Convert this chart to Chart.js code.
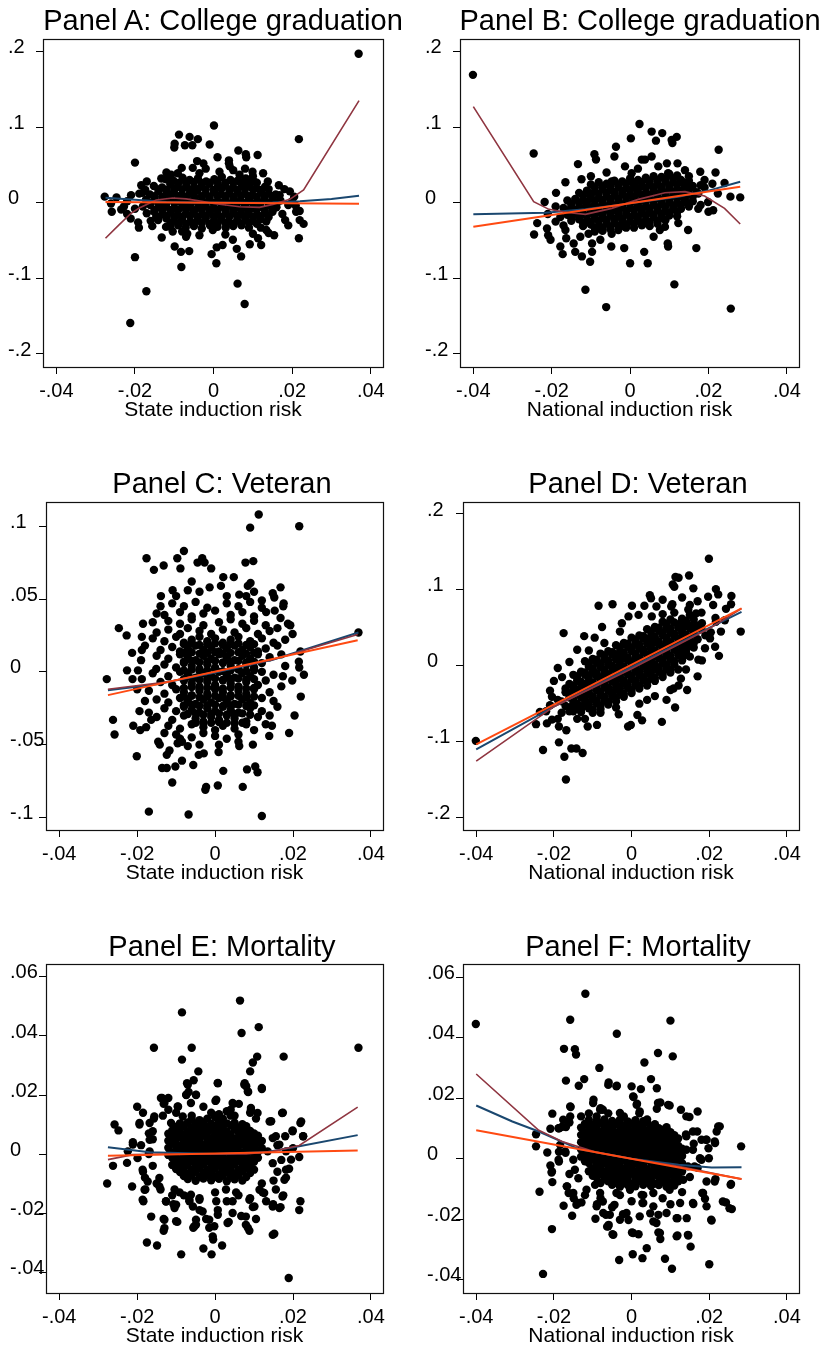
<!DOCTYPE html>
<html lang="en">
<head>
<meta charset="UTF-8" />
<title>Induction risk scatter panels</title>
<script src="https://cdn.jsdelivr.net/npm/chart.js"></script>
<style>
  html, body { margin: 0; background: #fff; }
  #page { position: relative; width: 824px; height: 1349px; overflow: hidden; font-family: "Liberation Sans", Arial, sans-serif; }
  .ptitle { position: absolute; font-size: 29px; line-height: 29px; white-space: nowrap; transform: translateX(-50%); color: #000; }
  canvas { position: absolute; }
</style>
</head>
<body>
<div id="page"></div>
<script>
// tick values and labels (Stata style, no leading zero)
const xTicks = [-.04, -.02, 0, .02, .04];
const xTickLabels = ['-.04', '-.02', '0', '.02', '.04'];
const yTicksWide = [-.2, -.1, 0, .1, .2];
const yLabelsWide = ['-.2', '-.1', '0', '.1', '.2'];
const yTicksVet = [-.1, -.05, 0, .05, .1];
const yLabelsVet = ['-.1', '-.05', '0', '.05', '.1'];
const yTicksMort = [-.04, -.02, 0, .02, .04, .06];
const yLabelsMort = ['-.04', '-.02', '0', '.02', '.04', '.06'];

// ---- Panel A: college graduation vs state induction risk ----
const ptsA = [
  [.0369,.197],[.0217,.084],[.0001,.102],[-.0088,.090],[-.0061,.087],[-.004,.084],[-.0099,.078],[-.01,.073],[-.0073,.076],[-.0054,.076],
  [-.001,.077],[.0063,.069],[.0082,.064],[.0083,.060],[.0112,.063],[.001,.060],[-.02,.053],[-.0277,.008],[-.0247,.007],[-.0259,-.012],
  [-.0261,-.001],[-.0228,-.005],[-.0211,-.021],[-.0192,-.026],[-.0156,-.031],[-.0132,-.046],[-.02,-.072],[-.0171,-.117],[-.0212,-.159],[-.0099,-.058],
  [-.0083,-.065],[-.0062,-.064],[-.0082,-.085],[-.0005,-.068],[.0008,-.059],[.0007,-.080],[.0023,-.056],[.0061,-.107],[.0079,-.134],[.0059,-.061],
  [.007,-.071],[.0092,-.055],[.0121,-.056],[.0154,-.043],[.0134,-.036],[.0217,-.047],[.0229,-.028],[.0219,-.023],[.0219,-.011],[.0182,-.023],
  [.0168,.010],[.0194,.015],[.0126,.039],[.0099,.041],[.0039,.052],[.0039,.056],[-.0026,.052],[-.0042,.055],[-.0053,.046],[-.0081,.046],
  [-.0091,.039],[-.0108,.037],[-.0133,.032],[-.0184,.023],[-.0174,.017],[-.0189,.012],[.0138,.028],[.0166,.023],[.0151,.004],[.0209,-.004],
  [-.0146,-.019],[-.0121,-.032],[-.0104,-.038],[-.0067,-.041],[-.0036,-.043],[-.0002,-.036],[.0049,-.049],[.01,-.041],[.0113,-.047],[.0134,-.025],
  [-.0036,.039],[.0015,.041],[.0066,.037],[.0041,.048],[-.022,.002],[-.0235,-.009],[.019,-.003],[.0205,.008],[.0175,-.015],[-.016,-.024],
  [.008,.045],[-.002,.045],[.012,-.033],[-.008,-.038],
  [-.021,.010],[-.020,-.008],[-.022,-.015],[.020,.002],[.021,-.012],[.018,.018],[-.017,.028],[-.012,.040],[.010,.035],[.014,-.040],
  [.003,-.042],[-.007,-.045],[.019,-.030],[-.019,-.033],[.005,.043],
  [-.0121,.031],[-.0102,.029],[-.0079,.033],[-.0061,.030],[-.0040,.032],[-.0019,.028],[.0002,.031],[.0021,.034],[.0043,.030],[.0061,.029],[.0082,.032],[.0103,.028],
  [-.011,.027],[-.009,.026],[-.007,.0265],[-.005,.027],[-.003,.026],[-.001,.0265],[.001,.027],[.003,.026],[.005,.0265],[.007,.027],[.009,.026],[.011,.0265],
  [-.0152,.022],[-.0131,.020],[-.0110,.024],[-.0091,.021],[-.0069,.023],[-.0050,.019],[-.0031,.022],[-.0010,.025],[.0011,.021],[.0029,.023],[.0050,.020],[.0071,.024],[.0090,.022],[.0109,.019],[.0131,.021],
  [-.014,.0175],[-.012,.017],[-.010,.018],[-.008,.0175],[-.006,.017],[-.004,.018],[-.002,.0175],[0,.017],[.002,.018],[.004,.0175],[.006,.017],[.008,.018],[.010,.0175],[.012,.017],[.014,.018],
  [-.0181,.013],[-.0162,.011],[-.0140,.015],[-.0119,.012],[-.0101,.014],[-.0080,.010],[-.0060,.013],[-.0041,.016],[-.0020,.012],[.0001,.014],[.0019,.011],[.0040,.013],[.0061,.015],[.0080,.012],[.0099,.010],[.0121,.014],[.0140,.012],[.0158,.011],
  [-.015,.0085],[-.013,.008],[-.011,.009],[-.009,.0085],[-.007,.008],[-.005,.009],[-.003,.0085],[-.001,.008],[.001,.009],[.003,.0085],[.005,.008],[.007,.009],[.009,.0085],[.011,.008],[.013,.009],[.015,.0085],
  [-.0172,.004],[-.0150,.006],[-.0129,.003],[-.0110,.005],[-.0090,.002],[-.0071,.004],[-.0049,.006],[-.0030,.003],[-.0011,.005],[.0010,.002],[.0030,.004],[.0051,.006],[.0069,.003],[.0090,.005],[.0111,.002],[.0129,.004],[.0150,.006],[.0170,.003],
  [-.016,-.0005],[-.014,-.001],[-.012,0],[-.010,-.0005],[-.008,-.001],[-.006,0],[-.004,-.0005],[-.002,-.001],[0,0],[.002,-.0005],[.004,-.001],[.006,0],[.008,-.0005],[.010,-.001],[.012,0],[.014,-.0005],[.016,-.001],
  [-.0180,-.005],[-.0161,-.003],[-.0139,-.006],[-.0121,-.004],[-.0100,-.007],[-.0079,-.005],[-.0060,-.003],[-.0039,-.006],[-.0021,-.004],[0,-.007],[.0020,-.005],[.0041,-.003],[.0059,-.006],[.0080,-.004],[.0101,-.007],[.0119,-.005],[.0141,-.003],[.0160,-.006],
  [-.015,-.0095],[-.013,-.009],[-.011,-.010],[-.009,-.0095],[-.007,-.009],[-.005,-.010],[-.003,-.0095],[-.001,-.009],[.001,-.010],[.003,-.0095],[.005,-.009],[.007,-.010],[.009,-.0095],[.011,-.009],[.013,-.010],[.015,-.0095],
  [-.0170,-.014],[-.0151,-.012],[-.0130,-.015],[-.0109,-.013],[-.0091,-.016],[-.0070,-.014],[-.0050,-.012],[-.0029,-.015],[-.0010,-.013],[.0011,-.016],[.0031,-.014],[.0050,-.012],[.0070,-.015],[.0089,-.013],[.0110,-.016],[.0131,-.014],[.0150,-.012],
  [-.014,-.0185],[-.012,-.018],[-.010,-.019],[-.008,-.0185],[-.006,-.018],[-.004,-.019],[-.002,-.0185],[0,-.018],[.002,-.019],[.004,-.0185],[.006,-.018],[.008,-.019],[.010,-.0185],[.012,-.018],[.014,-.019],
  [-.0141,-.023],[-.0120,-.021],[-.0101,-.024],[-.0080,-.022],[-.0059,-.025],[-.0041,-.023],[-.0020,-.021],[.0001,-.024],[.0020,-.022],[.0039,-.025],[.0060,-.023],[.0081,-.021],[.0100,-.024],[.0119,-.022],
  [-.011,-.0275],[-.009,-.027],[-.007,-.028],[-.005,-.0275],[-.003,-.027],[-.001,-.028],[.001,-.0275],[.003,-.027],[.005,-.028],[.007,-.0275],[.009,-.027],[.011,-.028],
  [-.0110,-.032],[-.0090,-.030],[-.0071,-.033],[-.0050,-.031],[-.0030,-.034],[-.0009,-.030],[.0010,-.032],[.0031,-.033],[.0050,-.031],[.0071,-.030],[.0090,-.033]
];
const maroonA = [[-.0275,-.047],[-.024,-.029],[-.021,-.014],[-.0189,-.007],[-.0146,.0035],[-.0104,.0062],[-.007,.005],[-.003,.002],[0,-.001],[.0066,-.0053],[.0117,-.0062],[.0151,-.0022],[.0194,.0044],[.0229,.0168],[.037,.135]];
const navyA = [[-.0275,.0066],[-.02,.004],[-.012,.001],[-.005,.0002],[.005,0],[.015,.0003],[.022,.002],[.03,.005],[.037,.0093]];
const orangeA = [[-.0275,.0009],[.037,-.0013]];

// ---- Panel B: college graduation vs national induction risk ----
const ptsB = [
  [-.0401,.169],[-.0246,.065],[-.0218,.001],[-.0245,-.042],[-.0237,-.027],[-.0212,-.034],[-.0209,-.043],[-.0203,-.049],[-.0189,.013],[-.019,-.005],
  [-.0178,-.058],[-.0172,-.068],[-.0165,.027],[-.0163,-.047],[-.014,-.065],[-.0144,-.054],[-.0133,.051],[-.0123,-.071],[-.0114,-.115],[-.0127,-.045],
  [-.0097,-.065],[-.0091,.064],[-.0087,.057],[-.0124,.031],[-.0102,-.078],[-.0076,-.049],[-.0061,-.138],[-.0048,-.058],[-.0036,.074],[-.004,.061],
  [-.0015,-.060],[0,-.080],[.0002,.085],[.0024,.104],[.003,.057],[.0036,-.065],[.0045,-.080],[.0055,.094],[.0066,.082],[.0082,.092],
  [.0106,.083],[.0119,.087],[.0108,.079],[.0055,.061],[.0094,.052],[.0121,.052],[.0096,-.054],[.0097,-.058],[.0113,-.108],[.0148,-.036],
  [.0169,-.060],[.0179,.041],[.0218,.040],[.0226,.070],[.0241,.026],[.0256,.008],[.0281,.007],[.0257,-.140],[.0212,-.010],[.0199,.001],
  [.019,.030],[.0174,-.008],[.014,.043],[.0123,-.027],[.0089,-.032],[.0076,-.036],[.0038,-.027],[-.0013,-.032],[-.0047,-.041],[-.0072,-.036],
  [-.0097,-.054],[-.0106,-.041],[-.0165,-.036],[-.0152,-.014],[-.0178,-.019],[-.0047,.028],[-.0013,.048],[.0004,.039],[.0038,.057],[.0072,.048],
  [.0097,.039],[.0157,.021],[.0174,.012],[.0224,.012],
  [-.019,-.025],[-.017,-.030],[-.021,-.015],[.019,.020],[.021,.025],[.018,-.003],[.020,-.012],[-.006,.040],[.002,.045],[.006,-.045],[-.010,.035],[.015,.035],
  [-.010,.024],[-.008,.027],[-.006,.025],[-.004,.029],[-.002,.028],[0,.032],[.002,.030],[.004,.033],[.006,.035],[.008,.034],[.010,.038],[.012,.036],
  [-.009,.020],[-.007,.021],[-.005,.0225],[-.003,.024],[-.001,.025],[.001,.026],[.003,.027],[.005,.0285],[.007,.030],[.009,.031],[.011,.032],
  [-.013,.013],[-.011,.016],[-.009,.015],[-.007,.018],[-.005,.017],[-.003,.021],[-.001,.019],[.001,.023],[.003,.022],[.005,.025],[.007,.024],[.009,.028],[.011,.027],[.013,.030],[.015,.029],
  [-.012,.0093],[-.010,.0105],[-.008,.0117],[-.006,.013],[-.004,.014],[-.002,.0153],[0,.0165],[.002,.0177],[.004,.019],[.006,.020],[.008,.0213],[.010,.0225],[.012,.0237],[.014,.025],
  [-.016,.003],[-.014,.005],[-.012,.004],[-.010,.007],[-.008,.006],[-.006,.009],[-.004,.010],[-.002,.012],[0,.011],[.002,.014],[.004,.013],[.006,.016],[.008,.017],[.010,.019],[.012,.018],[.014,.021],[.016,.022],[.018,.023],
  [-.015,-.0015],[-.013,-.0003],[-.011,.0009],[-.009,.0021],[-.007,.0033],[-.005,.0045],[-.003,.0057],[-.001,.0069],[.001,.0081],[.003,.0093],[.005,.0105],[.007,.0117],[.009,.0129],[.011,.0141],[.013,.0153],[.015,.0165],
  [-.017,-.007],[-.015,-.005],[-.013,-.006],[-.011,-.003],[-.009,-.003],[-.007,0],[-.005,-.001],[-.003,.002],[-.001,.002],[.001,.005],[.003,.004],[.005,.007],[.007,.006],[.009,.009],[.011,.010],[.013,.012],[.015,.011],[.017,.014],
  [-.016,-.0111],[-.014,-.0099],[-.012,-.0087],[-.010,-.0075],[-.008,-.0063],[-.006,-.0051],[-.004,-.0039],[-.002,-.0027],[0,-.0015],[.002,-.0003],[.004,.0009],[.006,.0021],[.008,.0033],[.010,.0045],[.012,.0057],[.014,.0069],[.016,.0081],
  [-.016,-.016],[-.014,-.014],[-.012,-.015],[-.010,-.011],[-.008,-.012],[-.006,-.009],[-.004,-.010],[-.002,-.006],[0,-.007],[.002,-.004],[.004,-.005],[.006,-.002],[.008,-.002],[.010,.001],[.012,0],[.014,.003],[.016,.002],
  [-.015,-.0195],[-.013,-.0183],[-.011,-.0171],[-.009,-.0159],[-.007,-.0147],[-.005,-.0135],[-.003,-.0123],[-.001,-.0111],[.001,-.0099],[.003,-.0087],[.005,-.0075],[.007,-.0063],[.009,-.0051],[.011,-.0039],[.013,-.0027],[.015,-.0015],
  [-.015,-.024],[-.013,-.022],[-.011,-.023],[-.009,-.020],[-.007,-.020],[-.005,-.017],[-.003,-.018],[-.001,-.015],[.001,-.016],[.003,-.012],[.005,-.013],[.007,-.010],[.009,-.011],[.011,-.008],[.013,-.008],[.015,-.005],
  [-.012,-.0267],[-.010,-.0255],[-.008,-.0243],[-.006,-.0231],[-.004,-.0219],[-.002,-.0207],[0,-.0195],[.002,-.0183],[.004,-.0171],[.006,-.0159],[.008,-.0147],[.010,-.0135],[.012,-.0123],
  [-.012,-.031],[-.010,-.029],[-.008,-.030],[-.006,-.027],[-.004,-.027],[-.002,-.024],[0,-.025],[.002,-.022],[.004,-.023],[.006,-.019],[.008,-.020],[.010,-.017],[.012,-.018],
  [-.009,-.0339],[-.007,-.0327],[-.005,-.0315],[-.003,-.0303],[-.001,-.0291],[.001,-.0279],[.003,-.0267],[.005,-.0255],[.007,-.0243],[.009,-.0231],
  [-.009,-.038],[-.007,-.037],[-.005,-.035],[-.003,-.036],[-.001,-.033],[.001,-.033],[.003,-.030],[.005,-.031],[.007,-.028]
];
const maroonB = [[-.04,.127],[-.0246,.0013],[-.0207,-.0088],[-.016,-.013],[-.0114,-.0154],[-.0047,-.0075],[.0021,.0044],[.0089,.0132],[.014,.0146],[.019,.0088],[.0241,-.0075],[.0281,-.0282]];
const navyB = [[-.04,-.0154],[-.0216,-.0132],[-.0114,-.0088],[0,-.0009],[.0123,.0079],[.02,.016],[.0281,.0278]];
const orangeB = [[-.04,-.0318],[.0281,.0212]];

// ---- Panel C: veteran vs state induction risk ----
const ptsC = [
  [.0368,.027],[.0112,.108],[.0216,.100],[.009,.099],[-.008,.083],[-.0176,.078],[-.0097,.078],[-.0033,.078],[-.0045,.075],[-.0027,.075],
  [-.001,.071],[-.0132,.073],[-.0089,.071],[-.0157,.070],[.0078,.075],[.0098,.076],[.0021,.065],[.0048,.065],[-.006,.062],[-.0109,.056],
  [-.0139,.052],[-.0014,.058],[.0015,.059],[.0062,.053],[.0084,.059],[.0091,.061],[.0168,.058],[.0148,.054],[.0152,.051],[.0176,.047],
  [.0175,.045],[.0153,.042],[.0131,.041],[.0168,.037],[.0187,.033],[.0193,.032],[.0199,.026],[.018,.022],[-.0247,.030],[-.0227,.025],
  [-.0185,.033],[-.0188,.024],[-.0213,.013],[-.0188,.015],[-.0226,.001],[-.0198,.001],[-.0278,-.005],[-.0212,-.005],[-.0188,-.005],[-.0151,.002],
  [-.0262,-.033],[-.0258,-.043],[-.021,-.037],[-.0194,-.027],[-.0192,-.040],[-.0201,-.058],[-.0177,-.038],[-.0164,-.033],[-.0146,-.048],[-.0142,-.050],
  [-.0136,-.066],[-.0124,-.066],[-.0117,-.054],[-.0124,-.057],[-.011,-.076],[-.0102,-.065],[-.0085,-.061],[-.0096,-.049],[-.0085,-.048],[-.007,-.051],
  [-.0056,-.064],[-.0042,-.057],[-.0029,-.056],[-.0023,-.079],[-.0025,-.081],[.0007,-.078],[.0009,-.055],[.0021,-.068],[.0062,-.051],[.0071,-.079],
  [.0082,-.067],[.0097,-.050],[.0103,-.065],[.0109,-.069],[.0139,-.044],[.0146,-.037],[.019,-.042],[.0204,-.030],[.022,-.017],[.0228,-.002],
  [.0216,.003],[.0174,-.003],[.0198,-.006],[-.017,-.096],[-.0068,-.098],[.012,-.099],[.0219,.014],[.0215,.007],
  [-.014,.045],[-.010,.052],[-.004,.055],[.003,.052],[.008,.052],[.012,.049],[-.016,.034],[.016,.030],[-.018,.018],[.017,.012],
  [-.019,.008],[.018,.004],[-.020,-.012],[.017,-.010],[-.018,-.020],[.016,-.024],[-.017,-.028],[.014,-.030],[-.013,-.042],[.010,-.040],
  [-.009,-.046],[.006,-.048],[-.004,-.050],[.001,-.050],[.013,-.036],[-.015,.040],[.010,.055],[-.007,.056],
  [-.011,.047],[-.008,.045],[-.005,.048],[-.002,.044],[.003,.047],[.006,.045],[.009,.048],[.012,.044],
  [-.013,.039],[-.009,.041],[-.006,.038],[-.003,.040],[0,.042],[.004,.039],[.007,.041],[.010,.038],
  [-.012,.035],[-.009,.033],[-.006,.036],[-.003,.032],[.001,.034],[.004,.036],[.007,.033],[.010,.035],[.013,.032],
  [-.015,.027],[-.012,.029],[-.009,.026],[-.007,.030],[-.004,.028],[-.001,.026],[.002,.029],[.005,.027],[.008,.030],[.011,.026],[.014,.028],
  [-.016,.023],[-.013,.021],[-.010,.024],[-.008,.020],[-.006,.022],[-.004,.024],[-.002,.021],[0,.023],[.002,.020],[.004,.022],[.006,.024],[.009,.021],[.012,.023],[.015,.020],
  [-.008,.019],[-.006,.0195],[-.004,.0185],[-.002,.019],[0,.0195],[.002,.0185],[.004,.019],[.006,.0195],[.008,.0185],[.010,.019],
  [-.014,.015],[-.011,.017],[-.009,.014],[-.007,.016],[-.005,.018],[-.003,.015],[-.001,.017],[.001,.014],[.003,.016],[.005,.018],[.007,.015],[.009,.017],[.011,.014],[.013,.016],[.016,.018],
  [-.008,.013],[-.006,.0135],[-.004,.0125],[-.002,.013],[0,.0135],[.002,.0125],[.004,.013],[.006,.0135],[.008,.0125],[.010,.013],
  [-.015,.011],[-.012,.009],[-.009,.012],[-.007,.010],[-.005,.008],[-.003,.011],[-.001,.009],[.001,.012],[.003,.010],[.005,.008],[.007,.011],[.009,.009],[.011,.012],[.014,.010],
  [-.008,.007],[-.006,.0075],[-.004,.0065],[-.002,.007],[0,.0075],[.002,.0065],[.004,.007],[.006,.0075],[.008,.0065],[.010,.007],
  [-.013,.005],[-.010,.003],[-.008,.006],[-.006,.004],[-.004,.002],[-.002,.005],[0,.003],[.002,.006],[.004,.004],[.006,.002],[.008,.005],[.010,.003],[.012,.006],
  [-.008,.001],[-.006,.0015],[-.004,.0005],[-.002,.001],[0,.0015],[.002,.0005],[.004,.001],[.006,.0015],[.008,.0005],[.010,.001],
  [-.016,-.001],[-.012,-.003],[-.009,0],[-.007,-.002],[-.005,-.004],[-.003,-.001],[-.001,-.003],[.001,0],[.003,-.002],[.005,-.004],[.007,-.001],[.009,-.003],[.012,0],[.015,-.002],
  [-.008,-.005],[-.006,-.0045],[-.004,-.0055],[-.002,-.005],[0,-.0045],[.002,-.0055],[.004,-.005],[.006,-.0045],[.008,-.0055],[.010,-.005],
  [-.014,-.007],[-.011,-.009],[-.008,-.006],[-.006,-.008],[-.004,-.010],[-.002,-.007],[0,-.009],[.002,-.006],[.004,-.008],[.006,-.010],[.008,-.007],[.011,-.009],[.013,-.006],
  [-.008,-.011],[-.006,-.0105],[-.004,-.0115],[-.002,-.011],[0,-.0105],[.002,-.0115],[.004,-.011],[.006,-.0105],[.008,-.0115],[.010,-.011],
  [-.017,-.013],[-.013,-.015],[-.010,-.012],[-.008,-.014],[-.006,-.016],[-.004,-.013],[-.002,-.015],[0,-.012],[.002,-.014],[.004,-.016],[.006,-.013],[.008,-.015],[.010,-.012],[.014,-.014],
  [-.008,-.017],[-.006,-.0165],[-.004,-.0175],[-.002,-.017],[0,-.0165],[.002,-.0175],[.004,-.017],[.006,-.0165],[.008,-.0175],[.010,-.017],
  [-.015,-.019],[-.012,-.021],[-.009,-.018],[-.007,-.020],[-.005,-.022],[-.003,-.019],[-.001,-.021],[.001,-.018],[.003,-.020],[.005,-.022],[.007,-.019],[.009,-.021],[.012,-.018],[.015,-.020],
  [-.008,-.023],[-.006,-.0225],[-.004,-.0235],[-.002,-.023],[0,-.0225],[.002,-.0235],[.004,-.023],[.006,-.0225],[.008,-.0235],[.010,-.023],
  [-.013,-.025],[-.010,-.027],[-.008,-.024],[-.006,-.026],[-.004,-.028],[-.002,-.025],[0,-.027],[.002,-.024],[.004,-.026],[.006,-.028],[.009,-.025],[.012,-.027],
  [-.007,-.029],[-.005,-.0285],[-.003,-.0295],[-.001,-.029],[.001,-.0285],[.003,-.0295],[.005,-.029],[.007,-.0285],[.009,-.0295],
  [-.015,-.031],[-.011,-.033],[-.008,-.030],[-.005,-.032],[-.003,-.034],[-.001,-.031],[.001,-.033],[.003,-.030],[.005,-.032],[.008,-.034],[.011,-.031],
  [-.005,-.035],[-.003,-.0355],[-.001,-.035],[.001,-.0345],[.003,-.035],[.005,-.0355],[.007,-.035],
  [-.012,-.037],[-.009,-.039],[-.006,-.036],[-.003,-.038],[0,-.040],[.002,-.037],[.005,-.039],[.008,-.036],
  [-.010,-.043],[-.006,-.045],[-.003,-.042],[0,-.044],[.003,-.046],[.006,-.043]
];
const maroonC = [[-.0275,-.012],[-.012,-.0068],[0,0],[.015,.0085],[.0366,.0256]];
const navyC = [[-.0275,-.0126],[-.015,-.0085],[0,-.0005],[.015,.0085],[.0368,.027]];
const orangeC = [[-.0275,-.016],[.0366,.0217]];

// ---- Panel D: veteran vs national induction risk ----
const ptsD = [
  [-.0401,-.099],[-.0236,-.061],[-.0246,-.077],[-.0228,-.111],[-.0218,-.076],[-.0205,-.071],[-.021,-.033],[-.0205,-.041],[-.019,-.003],[-.0187,-.080],
  [-.0187,-.101],[-.0179,-.015],[-.0175,.043],[-.0173,-.120],[-.0169,-.150],[-.017,-.030],[-.0168,-.085],[-.0155,-.109],[-.0142,-.109],[-.0126,-.115],
  [-.014,.021],[-.0122,.039],[-.0085,.079],[-.0049,.081],[-.0076,.051],[-.0095,.037],[-.0113,-.080],[-.0089,-.078],[-.0033,-.064],[-.0009,-.080],
  [-.0002,-.078],[.0027,-.072],[.0015,-.065],[.0078,-.074],[.0112,-.055],[.0127,-.017],[.0108,-.030],[.0143,-.032],[.0121,-.026],[.017,-.014],
  [.0181,.007],[.0225,.013],[.0215,.025],[.0189,.023],[.0197,.091],[.0199,.141],[.0148,.119],[.0113,.117],[.0121,.116],[.0106,.107],
  [.011,.104],[.0159,.102],[.0047,.093],[.005,.089],[.0001,.079],[.0033,.079],[.0064,.078],[.008,.087],[.0105,.081],[.0102,.078],
  [.0146,.074],[.0166,.069],[.0217,.101],[.0223,.094],[.0257,.092],[.0256,.081],[.0243,.075],[.0216,.063],[.0281,.045],[.0204,.044],
  [.0202,.036],[.0217,.058],[.0172,.008],[.0163,.051],[.0181,.056],[.0133,.012],[.0146,.025],[-.0008,.065],[-.0025,.056],[.0018,.067],
  [.0052,.065],[-.015,-.060],[-.012,-.070],[-.008,-.062],[-.004,-.055],[.002,-.050],[.006,-.040],[.009,-.045],[.014,-.005],[.016,.030],
  [.013,.062],[.008,.068],[-.003,.045],[-.007,.030],[-.011,.020],[-.016,.005],[-.019,-.045],[-.022,-.060],
  [.015,.080],[.018,.070],[.021,.080],[.024,.060],[.019,.040],[.023,.045],[.011,.070],[.013,.090],[.017,.085],[-.014,-.070],
  [-.019,-.070],[-.021,-.052],[-.020,-.020],[-.018,-.062],[.004,-.045],[.010,-.032],
  [-.012,.006],[-.010,.009],[-.008,.016],[-.006,.019],[-.004,.027],[-.002,.030],[0,.037],[.002,.040],[.004,.048],[.006,.051],[.008,.058],[.010,.061],
  [-.011,.003],[-.009,.008],[-.007,.013],[-.005,.018],[-.003,.024],[-.001,.029],[.001,.034],[.003,.039],[.005,.045],[.007,.050],[.009,.055],
  [-.015,-.012],[-.013,-.008],[-.011,-.001],[-.009,.004],[-.007,.008],[-.005,.015],[-.003,.018],[-.001,.025],[.001,.029],[.003,.036],[.005,.039],[.007,.046],[.009,.050],[.011,.057],[.013,.060],[.015,.067],
  [-.014,-.014],[-.012,-.009],[-.010,-.004],[-.008,.002],[-.006,.007],[-.004,.012],[-.002,.017],[0,.023],[.002,.028],[.004,.033],[.006,.038],[.008,.044],[.010,.049],[.012,.054],[.014,.059],
  [-.016,-.024],[-.014,-.019],[-.012,-.012],[-.010,-.009],[-.008,-.002],[-.006,.002],[-.004,.008],[-.002,.012],[0,.019],[.002,.023],[.004,.029],[.006,.033],[.008,.040],[.010,.044],[.012,.050],[.014,.054],[.016,.061],
  [-.015,-.026],[-.013,-.021],[-.011,-.015],[-.009,-.010],[-.007,-.005],[-.005,0],[-.003,.006],[-.001,.011],[.001,.016],[.003,.021],[.005,.027],[.007,.032],[.009,.037],[.011,.042],[.013,.048],[.015,.053],
  [-.017,-.035],[-.015,-.031],[-.013,-.024],[-.011,-.020],[-.009,-.014],[-.007,-.010],[-.005,-.003],[-.003,.001],[-.001,.007],[.001,.011],[.003,.018],[.005,.022],[.007,.028],[.009,.032],[.011,.039],[.013,.043],[.015,.049],[.017,.053],
  [-.016,-.037],[-.014,-.032],[-.012,-.027],[-.010,-.022],[-.008,-.016],[-.006,-.011],[-.004,-.006],[-.002,-.001],[0,.0045],[.002,.010],[.004,.015],[.006,.020],[.008,.0255],[.010,.031],[.012,.036],[.014,.041],[.016,.046],
  [-.018,-.047],[-.016,-.042],[-.014,-.036],[-.012,-.032],[-.010,-.025],[-.008,-.021],[-.006,-.015],[-.004,-.011],[-.002,-.004],[0,0],[.002,.006],[.004,.010],[.006,.017],[.008,.021],[.010,.027],[.012,.031],[.014,.037],[.016,.042],[.018,.048],
  [-.015,-.044],[-.013,-.039],[-.011,-.033],[-.009,-.028],[-.007,-.023],[-.005,-.018],[-.003,-.012],[-.001,-.007],[.001,-.002],[.003,.003],[.005,.009],[.007,.014],[.009,.019],[.011,.024],[.013,.030],[.015,.035],
  [-.017,-.053],[-.015,-.049],[-.013,-.042],[-.011,-.038],[-.009,-.032],[-.007,-.028],[-.005,-.021],[-.003,-.017],[-.001,-.011],[.001,-.007],[.003,-.001],[.005,.004],[.007,.010],[.009,.014],[.011,.021],[.013,.025],[.015,.031],[.017,.035],
  [-.016,-.055],[-.014,-.050],[-.012,-.045],[-.010,-.040],[-.008,-.0345],[-.006,-.029],[-.004,-.024],[-.002,-.019],[0,-.0135],[.002,-.008],[.004,-.003],[.006,.002],[.008,.0075],[.010,.013],[.012,.018],[.014,.023],
  [-.016,-.060],[-.014,-.054],[-.012,-.050],[-.010,-.044],[-.008,-.039],[-.006,-.033],[-.004,-.029],[-.002,-.023],[0,-.018],[.002,-.013],[.004,-.008],[.006,-.002],[.008,.003],[.010,.008],[.012,.014],[.014,.018],[.016,.024],
  [-.013,-.057],[-.011,-.051],[-.009,-.046],[-.007,-.041],[-.005,-.036],[-.003,-.030],[-.001,-.025],[.001,-.020],[.003,-.015],[.005,-.009],[.007,-.004],[.009,.001],[.011,.006],[.013,.012],
  [-.013,-.061],[-.011,-.056],[-.009,-.050],[-.007,-.046],[-.005,-.040],[-.003,-.035],[-.001,-.029],[.001,-.025],[.003,-.019],[.005,-.014],[.007,-.008],[.009,-.004],[.011,.002],[.013,.007],[.015,.012],
  [-.010,-.058],[-.008,-.0525],[-.006,-.047],[-.004,-.042],[-.002,-.037],[0,-.0315],[.002,-.026],[.004,-.021],[.006,-.016],[.008,-.0105],[.010,-.005],
  [-.010,-.062],[-.008,-.057],[-.006,-.051],[-.004,-.047],[-.002,-.041],[0,-.036],[.002,-.030],[.004,-.026],[.006,-.020],[.008,-.015],[.010,-.009],[.012,-.005]
];
const maroonD = [[-.04,-.1256],[-.02,-.054],[0,-.004],[.02,.049],[.0283,.0755]];
const navyD = [[-.04,-.1102],[-.02,-.054],[0,-.002],[.02,.05],[.0283,.0711]];
const orangeD = [[-.04,-.1036],[.0283,.0755]];

// ---- Panel E: mortality vs state induction risk ----
const ptsE = [
  [.0368,.036],[.0064,.052],[-.0085,.048],[.0068,.041],[.0112,.043],[-.0157,.036],[-.006,.036],[-.0085,.032],[.0176,.033],[.0108,.033],
  [.0097,.031],[.009,.028],[-.0043,.028],[.0007,.024],[.0076,.024],[.008,.023],[.0085,.021],[.012,.022],[-.0072,.024],[-.0055,.025],
  [-.0068,.021],[-.0049,.020],[-.0074,.020],[-.0136,.019],[-.012,.019],[-.0132,.017],[-.0095,.016],[.0001,.018],[.0047,.017],[.0061,.017],
  [.0092,.015],[.0174,.014],[-.02,.016],[-.0185,.014],[-.0157,.012],[-.0134,.013],[-.0258,.010],[-.0248,.008],[-.0211,.004],[-.0194,.010],
  [-.0277,-.010],[-.0262,-.004],[-.0226,-.003],[-.0213,-.011],[-.0185,-.006],[-.0179,-.012],[-.0184,-.016],[-.0175,-.030],[-.0149,-.031],[-.0132,-.026],
  [-.0132,-.022],[-.0126,-.016],[-.0097,-.023],[-.0087,-.034],[-.014,-.012],[-.0107,-.017],[-.0104,-.012],[-.0091,-.013],[-.0056,-.025],[-.0049,-.024],
  [-.003,-.032],[-.0009,-.034],[-.0005,-.029],[.0018,-.031],[-.0015,-.025],[-.0023,-.022],[.0007,-.019],[.0035,-.023],[.0045,-.016],[.0067,-.021],
  [.0084,-.025],[.0088,-.026],[.0105,-.022],[.0097,-.018],[.0131,-.016],[.0152,-.027],[.0149,-.017],[.0168,-.018],[.0175,-.014],[.0182,-.008],
  [.0189,-.042],[.0219,-.016],[.0216,-.019],[.0216,-.001],[.0221,.011],[.0199,.008],[.0226,.006],[.0156,.006],[.0156,-.012],[.0122,-.013],
  [.0054,-.013],[.0028,-.012],[-.0066,-.016],[-.004,-.019],[.0003,-.016],[.0105,.012],[.014,.011],
  [-.016,.005],[-.017,0],[-.016,-.004],[.016,.003],[.017,-.002],[.016,-.006],[-.010,.014],[-.006,.013],[0,.013],[.005,.013],[-.008,-.014],[0,-.013],[.006,-.014],[.012,-.010],
  [-.017,.007],[-.018,-.008],[.018,.006],[.019,-.005],[-.012,.015],[.004,.015],[.009,.014],[-.003,.016],[-.011,-.014],[-.004,-.015],[.003,-.016],[.009,-.015],[.015,-.009],[-.015,-.010],[-.019,.003],[.020,.002],
  [-.0194,.0105],[-.0168,.0105],[-.0156,.0127],[-.0139,.019],[-.013,.0173],[-.0113,.0105],[-.0096,.0161],[-.0074,.0201],[-.007,.0235],[-.0049,.0201],
  [-.0062,.0173],[-.0083,.0127],[.0003,.0184],[.0007,.0241],[.0045,.0173],[.0075,.0235],[.0084,.0212],[.012,.0224],[.0092,.0156],[.0109,.0139],
  [.0144,.0111],[.0172,.0139],[.0199,.0077],[.0219,.0105],[.0226,.006],[.0195,-.0019],[.0182,-.0053],[.0178,-.0087],[.0148,-.0031],[.0173,-.0144],
  [.0148,-.0178],[.0165,-.0183],[.0148,-.0274],[.0126,-.0132],[.0088,-.0155],[.0101,-.0178],[.0114,-.0121],[.0079,-.0212],[.0079,-.024],[.0045,-.02],
  [.0032,-.0234],[.0007,-.0206],[-.0002,-.0245],[-.0006,-.0279],[-.0015,-.0223],[-.0032,-.0195],[-.0049,-.0223],[-.0053,-.0245],[-.0066,-.0155],[-.0062,-.0138],
  [-.0057,-.0178],[-.004,-.0155],[-.01,-.0172],[-.0104,-.0183],[-.0126,-.0161],[-.013,-.0223],[-.013,-.0251],[-.01,-.0228],[-.0164,-.0212],[-.0143,-.011],
  [-.0143,-.0081],[-.0173,-.0093],[-.0181,-.0121],[-.0186,-.0155],[-.0186,-.0053],[-.0211,.0032],[-.0224,.0009],[-.0199,-.0014],[-.0168,.0009],[-.0168,.0048],
  [-.016,.0077],[.0148,.0054],[.0165,.0032],[.0135,.0009],[.0182,.0009],
  [-.002,.012],[0,.0125],[.002,.012],[.004,.013],[-.001,.014],[.001,.0135],[.003,.0145],[-.004,.0115],[-.006,.0118],
  [-.009,.0104],[-.007,.0107],[-.005,.0102],[-.003,.0106],[-.001,.0103],[.001,.0108],[.003,.0104],[.005,.0106],[.007,.0101],
  [-.010,.0093],[-.008,.0096],[-.006,.009],[-.004,.0095],[-.002,.0091],[0,.0096],[.002,.0092],[.004,.0097],[.006,.009],[.008,.0094],
  [-.011,.008],[-.009,.0084],[-.007,.0077],[-.005,.0083],[-.003,.0079],[-.001,.0085],[.001,.008],[.003,.0076],[.005,.0084],[.007,.0081],[.009,.0078],
  [-.012,.0069],[-.010,.0072],[-.008,.0066],[-.006,.0071],[-.004,.0067],[-.002,.0072],[0,.0068],[.002,.0071],[.004,.0066],[.006,.0073],[.008,.0067],[.010,.007],
  [-.011,.0055],[-.009,.0061],[-.007,.0052],[-.005,.0058],[-.003,.0063],[-.001,.0054],[.001,.0057],[.003,.0062],[.005,.0051],[.007,.0059],[.009,.0056],[.011,.0062],
  [-.012,.0045],[-.010,.0048],[-.008,.0042],[-.006,.0047],[-.004,.0043],[-.002,.0048],[0,.0044],[.002,.0047],[.004,.0042],[.006,.0049],[.008,.0043],[.010,.0046],[.012,.0044],
  [-.011,.0036],[-.009,.0028],[-.007,.0034],[-.005,.0038],[-.003,.003],[-.001,.0035],[.001,.0032],[.003,.0037],[.005,.0029],[.007,.0034],[.009,.0031],[.011,.0038],
  [-.012,.0021],[-.010,.0024],[-.008,.0018],[-.006,.0023],[-.004,.0019],[-.002,.0024],[0,.002],[.002,.0023],[.004,.0018],[.006,.0025],[.008,.0019],[.010,.0022],[.012,.002],
  [-.011,.0005],[-.009,.0012],[-.007,.0007],[-.005,.0013],[-.003,.0004],[-.001,.001],[.001,.0006],[.003,.0013],[.005,.0008],[.007,.0004],[.009,.0011],[.011,.0007],
  [-.012,-.0003],[-.010,0],[-.008,-.0006],[-.006,-.0001],[-.004,-.0005],[-.002,0],[0,-.0004],[.002,-.0001],[.004,-.0006],[.006,.0001],[.008,-.0005],[.010,-.0002],
  [-.011,-.0013],[-.009,-.0019],[-.007,-.001],[-.005,-.0017],[-.003,-.0012],[-.001,-.002],[.001,-.0014],[.003,-.0018],[.005,-.0011],[.007,-.0016],[.009,-.002],[.011,-.0013],
  [-.010,-.0024],[-.008,-.003],[-.006,-.0025],[-.004,-.0029],[-.002,-.0024],[0,-.0028],[.002,-.0025],[.004,-.003],[.006,-.0023],[.008,-.0029],[.010,-.0026],
  [-.011,-.0037],[-.009,-.0043],[-.007,-.0035],[-.005,-.0041],[-.003,-.0036],[-.001,-.0044],[.001,-.0038],[.003,-.0042],[.005,-.0034],[.007,-.004],[.009,-.0045],
  [-.010,-.0051],[-.008,-.0048],[-.006,-.0054],[-.004,-.0049],[-.002,-.0053],[0,-.0048],[.002,-.0052],[.004,-.0049],[.006,-.0054],[.008,-.0047],[.010,-.0053],
  [-.009,-.0061],[-.007,-.0067],[-.005,-.0059],[-.003,-.0065],[-.001,-.006],[.001,-.0068],[.003,-.0062],[.005,-.0066],[.007,-.0058],[.009,-.0064],
  [-.008,-.0075],[-.006,-.0072],[-.004,-.0078],[-.002,-.0073],[0,-.0077],[.002,-.0072],[.004,-.0076],[.006,-.0073],[.008,-.0078],
  [-.007,-.0085],[-.005,-.0091],[-.003,-.0083],[-.001,-.0089],[.001,-.0084],[.003,-.0092],[.005,-.0086],[.007,-.009]
];
const maroonE = [[-.0275,-.0019],[-.0211,-.0002],[-.013,0],[0,0],[.008,0],[.0148,.0009],[.0216,.0029],[.0366,.0159]];
const navyE = [[-.0275,.0023],[-.0168,.0006],[0,0],[.0131,.0006],[.0216,.0026],[.0366,.0064]];
const orangeE = [[-.0275,-.0006],[.0366,.0012]];

// ---- Panel F: mortality vs national induction risk ----
const ptsF = [
  [-.0401,.0445],[-.0119,.0545],[-.0158,.0459],[.01,.0456],[-.0038,.0413],[-.0174,.0363],[-.0146,.0362],[-.0143,.0344],[.0068,.0349],[.0106,.0338],
  [.0033,.0318],[-.0083,.030],[-.0169,.0258],[-.0122,.0263],[-.0136,.0241],[-.0059,.0252],[-.0038,.0241],[0,.0239],[.0024,.023],[.005,.0263],
  [.0065,.0233],[.0005,.0204],[.0014,.0182],[-.0098,.0195],[-.008,.0167],[-.0074,.0162],[-.0157,.0171],[.0074,.0186],[.0065,.0165],[.0098,.0176],
  [.0127,.0162],[.017,.0156],[.0149,.0138],[-.0204,.0149],[-.0209,.0099],[-.0187,.0101],[-.0169,.0105],[-.0246,.0081],[-.0246,.0041],[-.0217,.0021],
  [-.0187,.0023],[-.0187,-.0009],[-.0209,-.0022],[-.0206,-.0045],[-.0204,-.0077],[-.0237,-.0109],[-.0175,-.0155],[-.0166,-.0091],[-.0162,-.0113],[-.0153,-.0188],
  [-.0149,-.013],[-.0142,-.0152],[-.0129,-.0144],[-.0093,-.0198],[-.0205,-.0232],[-.0228,-.038],[-.0089,-.015],[-.0074,-.0141],[-.0066,-.0185],[-.0059,-.0218],
  [-.0063,-.0224],[-.0049,-.0249],[-.0044,-.0152],[-.0032,-.0334],[-.0022,-.0183],[-.0008,-.0202],[.0001,-.0243],[.0003,-.0315],[.0018,-.0249],[.0028,-.0146],
  [.0028,-.0328],[.0039,-.0295],[.0048,-.018],[.0056,-.0207],[.0069,-.0243],[.0074,-.0265],[.0069,-.0185],[.0086,-.033],[.0104,-.0363],[.0118,-.0196],
  [.0118,-.0253],[.0125,-.0146],[.0142,-.0196],[.0146,-.0253],[.0152,-.029],[.0159,-.0149],[.0182,-.0113],[.0189,-.0132],[.0193,-.0157],[.02,-.0348],
  [.0206,-.0204],[.0216,-.0067],[.0214,-.0075],[.0243,-.0144],[.0258,-.0166],[.0256,-.0083],[.0282,.0041],[.0223,.0107],[.0219,.009],[.0215,.0052],
  [.0192,.0063],[.0198,.0035],[.0169,.009],[.0176,.0002],[.0199,.0002],[.0162,-.0025],
  [-.011,.015],[-.009,.014],[-.006,.015],[-.002,.014],[.002,.015],[.004,.013],[-.013,.014],[-.016,.012],[-.018,.0105],[.014,.008],[.016,.005],[.015,-.006],
  [.017,-.003],[-.016,-.005],[-.017,.002],[-.012,-.012],[-.008,-.013],[-.003,-.012],[.003,-.012],[.008,-.013],[.013,-.011],[.010,-.015],[-.005,-.016],[0,-.014],
  [-.0158,.0173],[-.0188,-.0003],[-.0205,-.0042],[-.0167,-.0091],[-.015,-.0113],[-.0137,-.0146],[-.009,-.0157],[-.0094,-.0086],[-.0073,-.0179],[-.0056,-.0185],
  [-.006,-.0223],[-.0047,-.0251],[-.003,-.0201],[-.0013,-.0179],[.0004,-.0245],[.0021,-.019],[.003,-.0146],[.0056,-.0157],[.0064,-.0212],[.0073,-.0245],
  [.009,-.0179],[.0116,-.0196],[.0145,-.0251],[.0116,-.0256],[.0158,-.0146],[.0184,-.0113],[.0205,-.0201],[.0193,-.0075],[.0235,-.0141],[.0252,-.0163],
  [.0255,-.0086],[.0193,.0063],[.0214,.0057],[.0227,.0107],[.0158,.009],[.018,.0063],[.0180,-.0003],[.0158,.003],[.0141,.014],[.0094,.0178],
  [.0068,.0184],[.0013,.0178],[.0021,.0156],[.0004,.0206],[-.003,.0151],[-.006,.0244],[-.0039,.0239],[-.0081,.0162],[-.0099,.0184],[-.0158,.014],
  [-.0176,.0129],[-.0188,.0101],[-.0184,.0046],[-.0171,.0024],[-.015,-.0003],[-.0146,-.0036],[-.0137,-.0064],[-.0116,-.0102],[-.0081,-.0113],[-.0039,-.0113],
  [-.0004,-.0102],[.0026,-.0119],[.0056,-.0113],[.0098,-.0102],[.0133,-.0069],[.0145,-.0025],[.0141,.003],[.0141,.0074],
  [-.011,.0128],[-.009,.0124],[-.007,.013],[-.005,.0125],[-.003,.0129],[-.001,.0123],[.001,.0127],[.003,.0124],
  [-.012,.0116],[-.010,.0112],[-.008,.0119],[-.006,.0113],[-.004,.0117],[-.002,.011],[0,.0116],[.002,.0112],[.004,.012],[.006,.0114],
  [-.013,.0103],[-.011,.0106],[-.009,.01],[-.007,.0105],[-.005,.0101],[-.003,.0106],[-.001,.0102],[.001,.0105],[.003,.01],[.005,.0106],[.007,.0101],[.009,.0104],
  [-.012,.0088],[-.010,.0095],[-.008,.0089],[-.006,.0092],[-.004,.0086],[-.002,.0094],[0,.009],[.002,.0087],[.004,.0093],[.006,.0089],[.008,.0095],[.010,.0088],
  [-.013,.0079],[-.011,.0082],[-.009,.0076],[-.007,.0081],[-.005,.0077],[-.003,.0082],[-.001,.0078],[.001,.0081],[.003,.0076],[.005,.0083],[.007,.0077],[.009,.008],[.011,.0078],
  [-.012,.0064],[-.010,.007],[-.008,.0065],[-.006,.0068],[-.004,.0063],[-.002,.0071],[0,.0066],[.002,.0062],[.004,.0069],[.006,.0065],[.008,.007],[.010,.0064],[.012,.0067],
  [-.013,.0055],[-.011,.0058],[-.009,.0052],[-.007,.0057],[-.005,.0053],[-.003,.0058],[-.001,.0054],[.001,.0057],[.003,.0052],[.005,.0059],[.007,.0053],[.009,.0056],[.011,.0054],
  [-.012,.004],[-.010,.0046],[-.008,.0041],[-.006,.0044],[-.004,.0039],[-.002,.0047],[0,.0042],[.002,.0038],[.004,.0045],[.006,.0041],[.008,.0046],[.010,.004],[.012,.0043],
  [-.013,.0031],[-.011,.0034],[-.009,.0028],[-.007,.0033],[-.005,.0029],[-.003,.0034],[-.001,.003],[.001,.0033],[.003,.0028],[.005,.0035],[.007,.0029],[.009,.0032],[.011,.003],[.013,.0033],
  [-.012,.0016],[-.010,.0022],[-.008,.0017],[-.006,.002],[-.004,.0015],[-.002,.0023],[0,.0018],[.002,.0014],[.004,.0021],[.006,.0017],[.008,.0022],[.010,.0016],[.012,.0019],
  [-.013,.0007],[-.011,.001],[-.009,.0004],[-.007,.0009],[-.005,.0005],[-.003,.001],[-.001,.0006],[.001,.0009],[.003,.0004],[.005,.0011],[.007,.0005],[.009,.0008],[.011,.0006],[.013,.0009],
  [-.012,-.0008],[-.010,-.0002],[-.008,-.0007],[-.006,-.0004],[-.004,-.0009],[-.002,-.0001],[0,-.0006],[.002,-.001],[.004,-.0003],[.006,-.0007],[.008,-.0002],[.010,-.0008],[.012,-.0005],
  [-.011,-.0014],[-.009,-.002],[-.007,-.0015],[-.005,-.0019],[-.003,-.0014],[-.001,-.0018],[.001,-.0015],[.003,-.002],[.005,-.0013],[.007,-.0019],[.009,-.0016],[.011,-.0018],[.013,-.0015],
  [-.010,-.0032],[-.008,-.0026],[-.006,-.0031],[-.004,-.0028],[-.002,-.0033],[0,-.0025],[.002,-.003],[.004,-.0034],[.006,-.0027],[.008,-.0031],[.010,-.0026],[.012,-.0032],
  [-.011,-.0041],[-.009,-.0038],[-.007,-.0044],[-.005,-.0039],[-.003,-.0043],[-.001,-.0038],[.001,-.0042],[.003,-.0039],[.005,-.0044],[.007,-.0037],[.009,-.0043],[.011,-.004],[.013,-.0042],
  [-.010,-.0056],[-.008,-.005],[-.006,-.0055],[-.004,-.0052],[-.002,-.0057],[0,-.0049],[.002,-.0054],[.004,-.0058],[.006,-.0051],[.008,-.0055],[.010,-.005],[.012,-.0056],
  [-.009,-.0062],[-.007,-.0068],[-.005,-.0063],[-.003,-.0067],[-.001,-.0062],[.001,-.0066],[.003,-.0063],[.005,-.0068],[.007,-.0061],[.009,-.0067],[.011,-.0064],
  [-.008,-.008],[-.006,-.0074],[-.004,-.0079],[-.002,-.0076],[0,-.0081],[.002,-.0073],[.004,-.0078],[.006,-.0082],[.008,-.0075],[.010,-.0079],[.012,-.0074],
  [-.005,-.0086],[-.003,-.0092],[-.001,-.0087],[.001,-.0091],[.003,-.0086],[.005,-.009],[.007,-.0087],[.009,-.0092],[.011,-.0088]
];
const maroonF = [[-.04,.028],[-.0239,.0094],[-.0179,.0057],[-.0093,.0022],[0,0],[.0121,-.0025],[.0283,-.0067]];
const navyF = [[-.04,.0176],[-.0307,.0123],[-.0239,.009],[-.0136,.0032],[0,0],[.0121,-.002],[.0206,-.0029],[.0283,-.0028]];
const orangeF = [[-.04,.0094],[.0283,-.0067]];

const xMin = -.0434, xMax = .0431;

// layout of the six panels (page pixels)
const panels = [
  { title: 'Panel A: College graduation', xTitle: 'State induction risk', pts: ptsA, maroon: maroonA, navy: navyA, orange: orangeA,
    yTicks: yTicksWide, yLabels: yLabelsWide, yMin: -.2172, yMax: .2164,
    left: 0, top: 0, w: 412, h: 423, padL: 8, yW: 35, padR: 29, padT: 39, titleX: 223, titleY: 6 },
  { title: 'Panel B: College graduation', xTitle: 'National induction risk', pts: ptsB, maroon: maroonB, navy: navyB, orange: orangeB,
    yTicks: yTicksWide, yLabels: yLabelsWide, yMin: -.2172, yMax: .2164,
    left: 412, top: 0, w: 412, h: 423, padL: 13, yW: 35, padR: 25, padT: 39, titleX: 640, titleY: 6 },
  { title: 'Panel C: Veteran', xTitle: 'State induction risk', pts: ptsC, maroon: maroonC, navy: navyC, orange: orangeC,
    yTicks: yTicksVet, yLabels: yLabelsVet, yMin: -.1086, yMax: .1166,
    left: 0, top: 440, w: 412, h: 446, padL: 10, yW: 36, padR: 29, padT: 62, titleX: 222, titleY: 469 },
  { title: 'Panel D: Veteran', xTitle: 'National induction risk', pts: ptsD, maroon: maroonD, navy: navyD, orange: orangeD,
    yTicks: yTicksWide, yLabels: yLabelsWide, yMin: -.2165, yMax: .2158,
    left: 412, top: 440, w: 412, h: 446, padL: 15, yW: 36, padR: 25, padT: 62, titleX: 638, titleY: 469 },
  { title: 'Panel E: Mortality', xTitle: 'State induction risk', pts: ptsE, maroon: maroonE, navy: navyE, orange: orangeE,
    yTicks: yTicksMort, yLabels: yLabelsMort, yMin: -.0471, yMax: .0644,
    left: 0, top: 900, w: 412, h: 449, padL: 10, yW: 36, padR: 29, padT: 64, titleX: 222, titleY: 932 },
  { title: 'Panel F: Mortality', xTitle: 'National induction risk', pts: ptsF, maroon: maroonF, navy: navyF, orange: orangeF,
    yTicks: yTicksMort, yLabels: yLabelsMort, yMin: -.0443, yMax: .0643,
    left: 412, top: 900, w: 412, h: 449, padL: 15, yW: 36, padR: 25, padT: 64, titleX: 638, titleY: 932 }
];

const FONT = '"Liberation Sans", Arial, sans-serif';
Chart.defaults.font.family = FONT;
Chart.defaults.color = '#000';

// frame around the plot region
const frame = {
  id: 'frame',
  afterDatasetsDraw(chart) {
    const { ctx, chartArea: a } = chart;
    ctx.save();
    ctx.strokeStyle = '#111';
    ctx.lineWidth = 1.2;
    ctx.strokeRect(Math.round(a.left) + .5, Math.round(a.top) + .5, Math.round(a.right - a.left), Math.round(a.bottom - a.top));
    ctx.restore();
  }
};

const page = document.getElementById('page');
const toXY = arr => arr.map(([x, y]) => ({ x, y }));

panels.forEach(p => {
  const cv = document.createElement('canvas');
  cv.width = p.w; cv.height = p.h;
  cv.style.left = p.left + 'px'; cv.style.top = p.top + 'px';
  cv.style.width = p.w + 'px'; cv.style.height = p.h + 'px';
  page.appendChild(cv);

  const t = document.createElement('div');
  t.className = 'ptitle';
  t.textContent = p.title;
  t.style.left = p.titleX + 'px';
  t.style.top = p.titleY + 'px';
  page.appendChild(t);

  const tickGrid = { display: true, drawOnChartArea: false, drawTicks: true, tickLength: 7, color: '#000', lineWidth: 1 };

  new Chart(cv, {
    type: 'scatter',
    data: {
      datasets: [
        { data: toXY(p.orange), showLine: true, borderColor: '#ff4a12', borderWidth: 2, pointRadius: 0, order: 0 },
        { data: toXY(p.maroon), showLine: true, borderColor: '#8f3540', borderWidth: 1.6, pointRadius: 0, order: 1 },
        { data: toXY(p.navy), showLine: true, borderColor: '#1a476f', borderWidth: 2, pointRadius: 0, order: 2 },
        { data: toXY(p.pts), pointRadius: 4.2, backgroundColor: '#000', borderWidth: 0, order: 3 }
      ]
    },
    options: {
      responsive: false,
      animation: false,
      devicePixelRatio: 1,
      events: [],
      layout: { padding: { left: p.padL, right: p.padR, top: p.padT, bottom: 0 } },
      plugins: { legend: { display: false }, tooltip: { enabled: false } },
      scales: {
        x: {
          type: 'linear', min: xMin, max: xMax,
          afterBuildTicks: s => { s.ticks = xTicks.map(v => ({ value: v })); },
          afterFit: s => { s.height = 56; },
          grid: tickGrid,
          border: { display: false },
          ticks: { autoSkip: false, maxRotation: 0, padding: 5, color: '#000', font: { size: 20 }, callback: (v, i) => xTickLabels[i] },
          title: { display: true, text: p.xTitle, color: '#000', font: { size: 21, lineHeight: 1.2 }, padding: 0 }
        },
        y: {
          type: 'linear', min: p.yMin, max: p.yMax,
          afterBuildTicks: s => { s.ticks = p.yTicks.map(v => ({ value: v })); },
          afterFit: s => { s.width = p.yW; },
          grid: tickGrid,
          border: { display: false },
          ticks: { autoSkip: false, crossAlign: 'far', labelOffset: -4, color: '#000', font: { size: 20 }, callback: (v, i) => p.yLabels[i] }
        }
      }
    },
    plugins: [frame]
  });
});
</script>
</body>
</html>
